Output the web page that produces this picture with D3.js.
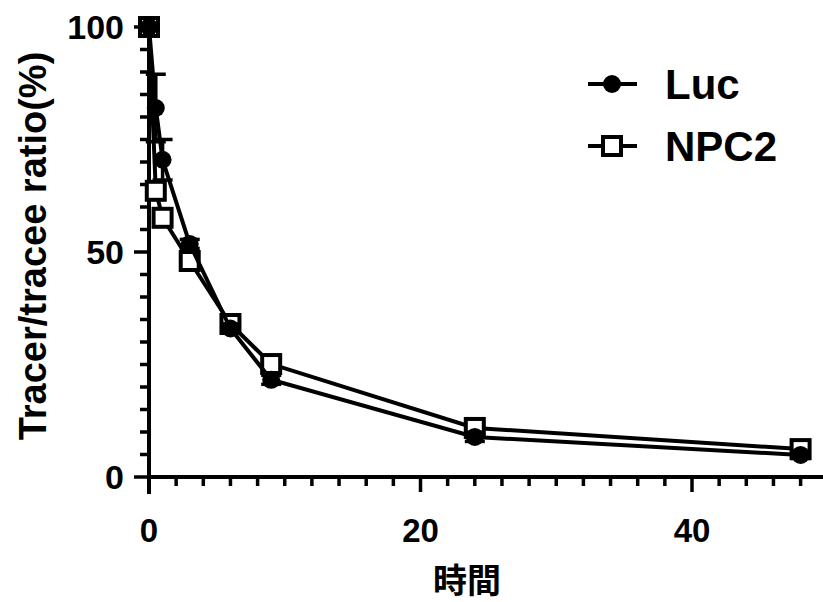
<!DOCTYPE html>
<html>
<head>
<meta charset="utf-8">
<script src="https://cdn.jsdelivr.net/npm/d3@7"></script>
<style>
  html, body { margin: 0; padding: 0; background: #fff; }
  svg { display: block; }
  text { font-family: "Liberation Sans", Arial, sans-serif; font-weight: bold; fill: #000; }
</style>
</head>
<body>
<svg id="chart" width="823" height="602"></svg>
<script>
// Sampling times (hours)
const times = [0, 0.5, 1, 3, 6, 9, 24, 48];
// Tracer/tracee ratio (%) for each group
const lucValues  = [100, 82, 70.5, 51.8, 33, 21.6, 8.9, 4.9];
const lucErrors  = [0, 7.5, 4.5, 1, 1, 1, 1, 0.8];
const npc2Values = [100, 63.6, 57.6, 48, 34, 25.1, 10.9, 6.2];
const npc2Errors = [0, 1.5, 1.5, 1, 1, 1, 1, 0.8];
const seriesNames = ["Luc", "NPC2"];
const xTicks = [0, 20, 40];
const yTicks = [0, 50, 100];

const svg = d3.select("#chart");
const x = d3.scaleLinear().domain([0, 50]).range([149, 827.75]);
const y = d3.scaleLinear().domain([0, 100]).range([477, 27]);

const lw = 4;

// Axes
const xAxis = svg.append("g").attr("transform", `translate(0,${y(0)})`);
xAxis.append("line").attr("x1", x(0) - 2).attr("x2", 823).attr("y1", 0).attr("y2", 0)
  .attr("stroke", "#000").attr("stroke-width", lw);
const xMinor = d3.range(0, 51, 2);
xAxis.selectAll("line.t").data(xMinor).join("line")
  .attr("class", "t")
  .attr("x1", d => x(d)).attr("x2", d => x(d))
  .attr("y1", 0).attr("y2", d => xTicks.includes(d) ? 15 : 9)
  .attr("stroke", "#000").attr("stroke-width", 3.5);
xAxis.selectAll("text").data(xTicks).join("text")
  .attr("x", d => x(d)).attr("y", 65)
  .attr("text-anchor", "middle").attr("font-size", 33)
  .text(d => d);

const yAxis = svg.append("g").attr("transform", `translate(${x(0)},0)`);
yAxis.append("line").attr("x1", 0).attr("x2", 0).attr("y1", y(100) - 2).attr("y2", y(0) + 17)
  .attr("stroke", "#000").attr("stroke-width", lw);
const yMinor = d3.range(0, 101, 5);
yAxis.selectAll("line.t").data(yMinor).join("line")
  .attr("class", "t")
  .attr("x1", d => yTicks.includes(d) ? -15 : -9).attr("x2", 0)
  .attr("y1", d => y(d)).attr("y2", d => y(d))
  .attr("stroke", "#000").attr("stroke-width", 3.5);
yAxis.selectAll("text").data(yTicks).join("text")
  .attr("x", -25).attr("y", d => y(d) + 12)
  .attr("text-anchor", "end").attr("font-size", 34)
  .text(d => d);

// Axis titles
svg.append("text")
  .attr("transform", `translate(46,${(y(0) + y(100)) / 2 - 6}) rotate(-90)`)
  .attr("text-anchor", "middle").attr("font-size", 38)
  .text("Tracer/tracee ratio(%)");
svg.append("text")
  .attr("x", 467).attr("y", 593)
  .attr("text-anchor", "middle").attr("font-size", 34)
  .style("font-family", '"Noto Sans CJK JP", sans-serif')
  .text("時間");

const line = d3.line().x(d => x(d.t)).y(d => y(d.v));
const mk = (vals, errs) => times.map((t, i) => ({ t, v: vals[i], e: errs[i] }));
const luc = mk(lucValues, lucErrors);
const npc2 = mk(npc2Values, npc2Errors);

function errorBars(data) {
  const g = svg.append("g").attr("stroke", "#000").attr("stroke-width", 3.5);
  data.filter(d => d.e > 0).forEach(d => {
    g.append("line").attr("x1", x(d.t)).attr("x2", x(d.t))
      .attr("y1", y(d.v - d.e)).attr("y2", y(d.v + d.e));
    [d.v - d.e, d.v + d.e].forEach(v => {
      g.append("line").attr("x1", x(d.t) - 10).attr("x2", x(d.t) + 10)
        .attr("y1", y(v)).attr("y2", y(v));
    });
  });
}

const sq = 18;

// NPC2 series (open squares)
errorBars(npc2);
svg.append("path").datum(npc2).attr("d", line)
  .attr("fill", "none").attr("stroke", "#000").attr("stroke-width", lw);
svg.append("g").selectAll("rect").data(npc2).join("rect")
  .attr("x", d => x(d.t) - sq / 2).attr("y", d => y(d.v) - sq / 2)
  .attr("width", sq).attr("height", sq)
  .attr("fill", "#fff").attr("stroke", "#000").attr("stroke-width", 4);

// Luc series (filled circles)
errorBars(luc);
svg.append("path").datum(luc).attr("d", line)
  .attr("fill", "none").attr("stroke", "#000").attr("stroke-width", lw);
svg.append("g").selectAll("circle").data(luc).join("circle")
  .attr("cx", d => x(d.t)).attr("cy", d => y(d.v)).attr("r", 9)
  .attr("fill", "#000");

// Legend
const legend = svg.append("g");
const legendY = [84, 146];
seriesNames.forEach((name, i) => {
  const gy = legendY[i];
  legend.append("line").attr("x1", 588).attr("x2", 637).attr("y1", gy).attr("y2", gy)
    .attr("stroke", "#000").attr("stroke-width", lw);
  if (i === 0) {
    legend.append("circle").attr("cx", 612).attr("cy", gy).attr("r", 9).attr("fill", "#000");
  } else {
    legend.append("rect").attr("x", 612 - sq / 2).attr("y", gy - sq / 2).attr("width", sq).attr("height", sq)
      .attr("fill", "#fff").attr("stroke", "#000").attr("stroke-width", 4);
  }
  legend.append("text").attr("x", 665).attr("y", gy + 15).attr("font-size", 42).text(name);
});
</script>
</body>
</html>
